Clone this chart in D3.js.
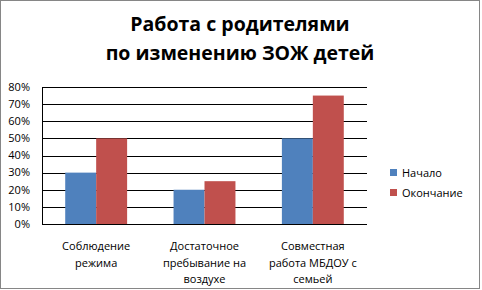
<!DOCTYPE html>
<html>
<head>
<meta charset="utf-8">
<script src="https://cdn.jsdelivr.net/npm/d3@7"></script>
<style>
  body { margin: 0; background: #fff; }
  svg { display: block; font-family: "Open Sans", "Liberation Sans", sans-serif; }
</style>
</head>
<body>
<svg id="chart" width="482" height="290"></svg>
<script>
const categories = [
  ["Соблюдение", "режима"],
  ["Достаточное", "пребывание на", "воздухе"],
  ["Совместная", "работа МБДОУ  с", "семьей"]
];
const seriesNames = ["Начало", "Окончание"];
const startValues = [0.30, 0.20, 0.50];
const endValues = [0.50, 0.25, 0.75];
const tickValues = [0, 0.1, 0.2, 0.3, 0.4, 0.5, 0.6, 0.7, 0.8];
const titleLines = ["Работа с родителями", "по изменению ЗОЖ детей"];

const colors = ["#4F81BD", "#C0504D"];
const svg = d3.select("#chart");

// outer frame
svg.append("rect")
  .attr("x", 0.5).attr("y", 0.5)
  .attr("width", 479).attr("height", 288)
  .attr("fill", "#fff")
  .attr("stroke", "#868686");

// title
svg.append("g").selectAll("text")
  .data(titleLines)
  .enter().append("text")
  .attr("x", 240)
  .attr("y", (d, i) => 31 + i * 29)
  .attr("text-anchor", "middle")
  .attr("font-size", 19.5)
  .attr("font-weight", "bold")
  .attr("fill", "#000")
  .text(d => d);

const plot = { left: 42, right: 367, top: 87, bottom: 224 };

const x = d3.scaleBand()
  .domain(d3.range(categories.length))
  .range([plot.left, plot.right]);

const inner = d3.scaleBand()
  .domain(d3.range(seriesNames.length))
  .range([0, x.bandwidth()])
  .paddingOuter(0.75)
  .paddingInner(0);

const y = d3.scaleLinear()
  .domain([0, 0.8])
  .range([plot.bottom, plot.top]);

// gridlines
svg.append("g").selectAll("line")
  .data(tickValues.filter(d => d > 0))
  .enter().append("line")
  .attr("x1", plot.left).attr("x2", plot.right)
  .attr("y1", d => Math.round(y(d)) + 0.5)
  .attr("y2", d => Math.round(y(d)) + 0.5)
  .attr("stroke", "#000")
  .attr("stroke-width", 1);

// bars
const rows = categories.map((c, i) => [startValues[i], endValues[i]]);
const groups = svg.append("g").selectAll("g")
  .data(rows)
  .enter().append("g")
  .attr("transform", (d, i) => `translate(${x(i)},0)`);

groups.selectAll("rect")
  .data(d => d)
  .enter().append("rect")
  .attr("x", (d, j) => inner(j))
  .attr("width", inner.bandwidth())
  .attr("y", d => y(d))
  .attr("height", d => plot.bottom - y(d))
  .attr("fill", (d, j) => colors[j]);

// axes lines
svg.append("line")
  .attr("x1", plot.left + 0.5).attr("x2", plot.left + 0.5)
  .attr("y1", plot.top).attr("y2", plot.bottom + 1)
  .attr("stroke", "#000");
svg.append("line")
  .attr("x1", plot.left).attr("x2", plot.right)
  .attr("y1", plot.bottom + 0.5).attr("y2", plot.bottom + 0.5)
  .attr("stroke", "#000");

// y tick labels
svg.append("g").selectAll("text")
  .data(tickValues)
  .enter().append("text")
  .attr("x", 30)
  .attr("y", d => y(d))
  .attr("dy", "0.35em")
  .attr("text-anchor", "end")
  .attr("font-size", 11)
  .attr("fill", "#000")
  .text(d3.format(".0%"));

// category labels
const catLabels = svg.append("g").selectAll("text")
  .data(categories)
  .enter().append("text")
  .attr("text-anchor", "middle")
  .attr("font-size", 11)
  .attr("fill", "#000");

catLabels.selectAll("tspan")
  .data((d, i) => d.map(line => ({ line, i })))
  .enter().append("tspan")
  .attr("x", d => x(d.i) + x.bandwidth() / 2)
  .attr("y", (d, k) => 250 + k * 16.5)
  .text(d => d.line);

// legend
const legend = svg.append("g").selectAll("g")
  .data(seriesNames)
  .enter().append("g")
  .attr("transform", (d, i) => `translate(390,${173 + i * 20})`);

legend.append("rect")
  .attr("x", 0).attr("y", -4)
  .attr("width", 7).attr("height", 7)
  .attr("fill", (d, i) => colors[i]);

legend.append("text")
  .attr("x", 12)
  .attr("dy", "0.35em")
  .attr("font-size", 11)
  .attr("fill", "#000")
  .text(d => d);
</script>
</body>
</html>
